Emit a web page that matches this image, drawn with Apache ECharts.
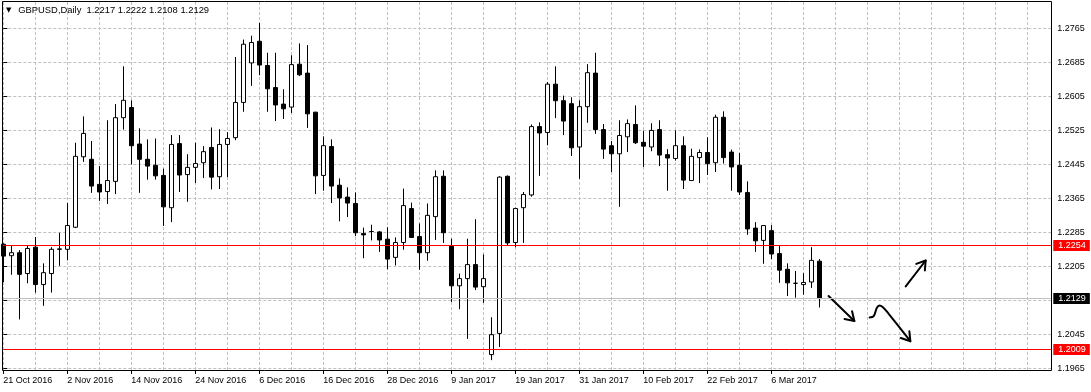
<!DOCTYPE html>
<html>
<head>
<meta charset="utf-8">
<script src="https://cdn.jsdelivr.net/npm/echarts@6/dist/echarts.min.js"></script>
<style>
html,body{margin:0;padding:0;background:#fff;}
#chart{width:1091px;height:392px;}
</style>
</head>
<body>
<div id="chart"></div>
<script>
const symbol = 'GBPUSD';
const timeframe = 'Daily';

const dates = [
'2016-10-21','2016-10-24','2016-10-25','2016-10-26','2016-10-27','2016-10-28','2016-10-31',
'2016-11-01','2016-11-02','2016-11-03','2016-11-04','2016-11-07','2016-11-08','2016-11-09','2016-11-10','2016-11-11','2016-11-14','2016-11-15','2016-11-16','2016-11-17','2016-11-18','2016-11-21','2016-11-22','2016-11-23','2016-11-24','2016-11-25','2016-11-28','2016-11-29','2016-11-30',
'2016-12-01','2016-12-02','2016-12-05','2016-12-06','2016-12-07','2016-12-08','2016-12-09','2016-12-12','2016-12-13','2016-12-14','2016-12-15','2016-12-16','2016-12-19','2016-12-20','2016-12-21','2016-12-22','2016-12-23','2016-12-26','2016-12-27','2016-12-28','2016-12-29','2016-12-30',
'2017-01-02','2017-01-03','2017-01-04','2017-01-05','2017-01-06','2017-01-09','2017-01-10','2017-01-11','2017-01-12','2017-01-13','2017-01-16','2017-01-17','2017-01-18','2017-01-19','2017-01-20','2017-01-23','2017-01-24','2017-01-25','2017-01-26','2017-01-27','2017-01-30','2017-01-31',
'2017-02-01','2017-02-02','2017-02-03','2017-02-06','2017-02-07','2017-02-08','2017-02-09','2017-02-10','2017-02-13','2017-02-14','2017-02-15','2017-02-16','2017-02-17','2017-02-20','2017-02-21','2017-02-22','2017-02-23','2017-02-24','2017-02-27','2017-02-28',
'2017-03-01','2017-03-02','2017-03-03','2017-03-06','2017-03-07','2017-03-08','2017-03-09','2017-03-10','2017-03-13','2017-03-14'
];

const openPrices = [
1.2257,1.2230,1.2237,1.2188,1.2250,1.2162,1.2188,1.2245,1.2245,1.2297,
1.2463,1.2457,1.2398,1.2381,1.2405,1.2555,1.2579,1.2493,1.2457,1.2443,
1.2419,1.2343,1.2494,1.2421,1.2438,1.2449,1.2485,1.2416,1.2492,1.2508,
1.2591,1.2684,1.2735,1.2678,1.2626,1.2587,1.2580,1.2681,1.2660,1.2568,
1.2419,1.2487,1.2396,1.2368,1.2353,1.2282,1.2287,1.2286,1.2269,1.2226,
1.2261,1.2341,1.2275,1.2237,1.2322,1.2417,1.2252,1.2159,1.2176,1.2209,
1.2157,1.1997,1.2047,1.2417,1.2261,1.2343,1.2373,1.2534,1.2520,1.2634,
1.2595,1.2588,1.2486,1.2581,1.2660,1.2527,1.2489,1.2470,1.2510,1.2539,
1.2497,1.2486,1.2527,1.2468,1.2459,1.2489,1.2407,1.2461,1.2473,1.2449,
1.2556,1.2474,1.2443,1.2379,1.2295,1.2266,1.2289,1.2235,1.2198,1.2165,
1.2162,1.2168,1.2217
];
const closePrices = [
1.2229,1.2237,1.2186,1.2247,1.2162,1.2190,1.2245,1.2246,1.2301,1.2464,
1.2518,1.2394,1.2380,1.2407,1.2555,1.2596,1.2489,1.2457,1.2441,1.2418,
1.2345,1.2492,1.2420,1.2438,1.2447,1.2475,1.2415,1.2492,1.2506,1.2591,
1.2728,1.2732,1.2679,1.2623,1.2585,1.2576,1.2680,1.2656,1.2564,1.2418,
1.2489,1.2394,1.2366,1.2354,1.2284,1.2279,1.2287,1.2267,1.2222,1.2261,
1.2348,1.2273,1.2237,1.2325,1.2416,1.2284,1.2159,1.2176,1.2209,1.2156,
1.2176,1.2044,1.2415,1.2260,1.2341,1.2374,1.2534,1.2519,1.2634,1.2595,
1.2547,1.2484,1.2581,1.2661,1.2527,1.2481,1.2470,1.2513,1.2541,1.2496,
1.2488,1.2525,1.2467,1.2460,1.2489,1.2408,1.2464,1.2473,1.2447,1.2556,
1.2461,1.2439,1.2380,1.2293,1.2265,1.2301,1.2234,1.2196,1.2166,1.2165,
1.2167,1.2219,1.2129
];
const highPrices = [
1.2259,1.2253,1.2243,1.2253,1.2274,1.2212,1.2250,1.2284,1.2354,1.2496,
1.2558,1.2500,1.2441,1.2549,1.2587,1.2676,1.2596,1.2530,1.2504,1.2506,
1.2435,1.2514,1.2514,1.2469,1.2496,1.2488,1.2532,1.2528,1.2521,1.2698,
1.2739,1.2748,1.2778,1.2708,1.2708,1.2622,1.2702,1.2730,1.2726,1.2569,
1.2511,1.2504,1.2412,1.2391,1.2379,1.2296,1.2303,1.2288,1.2297,1.2273,
1.2388,1.2355,1.2306,1.2353,1.2431,1.2431,1.2270,1.2188,1.2270,1.2316,
1.2233,1.2085,1.2417,1.2419,1.2343,1.2380,1.2539,1.2544,1.2639,1.2676,
1.2607,1.2603,1.2596,1.2681,1.2708,1.2540,1.2500,1.2549,1.2551,1.2584,
1.2524,1.2542,1.2549,1.2481,1.2525,1.2511,1.2482,1.2480,1.2509,1.2562,
1.2570,1.2480,1.2472,1.2405,1.2309,1.2301,1.2302,1.2253,1.2212,1.2194,
1.2189,1.2250,1.2222
];
const lowPrices = [
1.2168,1.2185,1.2080,1.2165,1.2143,1.2112,1.2143,1.2206,1.2219,1.2295,
1.2451,1.2378,1.2359,1.2352,1.2375,1.2527,1.2445,1.2378,1.2409,1.2409,
1.2300,1.2309,1.2380,1.2357,1.2401,1.2413,1.2386,1.2387,1.2415,1.2502,
1.2569,1.2630,1.2655,1.2569,1.2547,1.2552,1.2566,1.2653,1.2531,1.2375,
1.2383,1.2354,1.2311,1.2321,1.2276,1.2224,1.2266,1.2239,1.2198,1.2207,
1.2244,1.2272,1.2197,1.2218,1.2267,1.2260,1.2121,1.2104,1.2034,1.2149,
1.2119,1.1984,1.2015,1.2255,1.2250,1.2260,1.2369,1.2418,1.2490,1.2554,
1.2514,1.2465,1.2411,1.2543,1.2517,1.2458,1.2427,1.2345,1.2474,1.2493,
1.2439,1.2476,1.2441,1.2383,1.2454,1.2387,1.2406,1.2401,1.2420,1.2427,
1.2447,1.2383,1.2373,1.2279,1.2239,1.2211,1.2222,1.2166,1.2135,1.2131,
1.2138,1.2154,1.2108
];

// price axis ticks / labels (1.2125 label is covered by the bid label)
const priceTicks = [1.1965,1.2045,1.2125,1.2205,1.2285,1.2365,1.2445,1.2525,1.2605,1.2685,1.2765];
const priceLabels = [1.1965,1.2045,1.2205,1.2285,1.2365,1.2445,1.2525,1.2605,1.2685,1.2765];
// horizontal levels drawn in red
const levelPrices = [1.2254, 1.2009];
const futureSlots = 29;
const monthNames = ['Jan','Feb','Mar','Apr','May','Jun','Jul','Aug','Sep','Oct','Nov','Dec'];

// hand-drawn arrows, in (bar index, price)
const arrowDown1 = [[103.16, 1.21352], [106.38, 1.20763]];
const arrowSquiggle = [[108.29, 1.20844], [108.8, 1.20875], [109.2, 1.21075], [109.55, 1.21125], [110.05, 1.21070], [110.7, 1.20925], [113.38, 1.20286]];
const arrowUp = [[112.8, 1.21575], [115.3, 1.22187]];
const arrows = [arrowDown1, arrowSquiggle, arrowUp];

const FONT = "'Liberation Sans', Arial, sans-serif";
const FS = 9;

const slots = dates.concat(Array.from({length: futureSlots}, (_, i) => 'future-' + i));
const nBars = dates.length;
const lastIdx = nBars - 1;
const fmt4 = v => Number(v).toFixed(4);
function fmtDate(s) {
  const p = s.split('-');
  return parseInt(p[2], 10) + ' ' + monthNames[parseInt(p[1], 10) - 1] + ' ' + p[0];
}
const candleData = dates.map((d, i) => [openPrices[i], closePrices[i], lowPrices[i], highPrices[i]]);
const tickShown = (i) => i % 8 === 0 && i < nBars;

const chart = echarts.init(document.getElementById('chart'), null, {renderer: 'canvas'});
const option = {
  animation: false,
  backgroundColor: '#ffffff',
  title: {
    text: '{tri|▼}{t|' + symbol + ',' + timeframe + '  ' + [openPrices[lastIdx], highPrices[lastIdx], lowPrices[lastIdx], closePrices[lastIdx]].map(fmt4).join(' ') + '}',
    left: 6, top: 6, padding: 0,
    textStyle: {
      fontSize: 9.4, fontWeight: 'normal', color: '#000', fontFamily: FONT,
      rich: {
        tri: {fontSize: 7, color: '#000', fontFamily: 'DejaVu Sans', width: 12.3, align: 'left'},
        t: {fontSize: 9.4, color: '#000', fontFamily: FONT}
      }
    }
  },
  grid: { left: 3.3, top: 2, width: 1048, height: 368, show: false },
  xAxis: [{
    type: 'category', data: slots, boundaryGap: false,
    axisLine: {show: false},
    axisTick: {show: true, interval: tickShown, length: 4, lineStyle: {color: '#000'}},
    axisLabel: {interval: tickShown, formatter: v => fmtDate(v), align: 'left', margin: 6, color: '#000', fontSize: FS, fontFamily: FONT},
    splitLine: {show: true, interval: 3, lineStyle: {color: '#c0c0c0', width: 1, type: [3, 2]}}
  }, {
    type: 'value', min: 0, max: slots.length - 1, show: false
  }],
  yAxis: {
    type: 'value', position: 'right', min: 1.196078, max: 1.282748,
    axisLine: {show: false},
    axisTick: {show: true, length: 4, customValues: priceTicks, lineStyle: {color: '#000'}},
    axisLabel: {customValues: priceLabels, formatter: fmt4, margin: 6, align: 'left', color: '#000', fontSize: FS, fontFamily: FONT},
    splitLine: {show: true, lineStyle: {color: '#c0c0c0', width: 1, type: [3, 2]}}
  },
  series: [{
    type: 'candlestick',
    data: candleData,
    barWidth: 4,
    itemStyle: {color: '#ffffff', color0: '#000000', borderColor: '#000000', borderColor0: '#000000', borderWidth: 1},
    markLine: {
      silent: true, symbol: ['none', 'none'], animation: false, precision: 4,
      label: {show: true, position: 'end', distance: 2, formatter: p => fmt4(p.value), color: '#fff', fontSize: FS, fontFamily: FONT, padding: [1, 4, 1, 5], lineHeight: 9},
      data: levelPrices.map(v => ({yAxis: v, lineStyle: {color: '#ff0000', width: 1, type: 'solid', opacity: 1}, label: {backgroundColor: '#ff0000'}}))
        .concat([{yAxis: closePrices[lastIdx], lineStyle: {color: '#c0c0c0', width: 1, type: 'solid', opacity: 1}, label: {backgroundColor: '#000000'}}])
    }
  }, {
    type: 'custom',
    xAxisIndex: 1, yAxisIndex: 0,
    silent: true,
    data: arrows.map(a => [a[0][0], a[0][1]]),
    encode: {x: 0, y: 1},
    renderItem: function (params, api) {
      const pts = arrows[params.dataIndex].map(p => api.coord(p));
      const n = pts.length;
      const tip = pts[n - 1], prev = pts[n - 2];
      const ang = Math.atan2(tip[1] - prev[1], tip[0] - prev[0]);
      const L = 10, spread = Math.PI / 5.5;
      const w1 = [tip[0] - L * Math.cos(ang - spread), tip[1] - L * Math.sin(ang - spread)];
      const w2 = [tip[0] - L * Math.cos(ang + spread), tip[1] - L * Math.sin(ang + spread)];
      return {
        type: 'group',
        children: [
          {type: 'polyline', shape: {points: pts, smooth: n > 2 ? 0.35 : 0}, style: {stroke: '#000', lineWidth: 2, fill: null, lineCap: 'round', lineJoin: 'round'}},
          {type: 'polyline', shape: {points: [w1, tip, w2]}, style: {stroke: '#000', lineWidth: 2, fill: null, lineCap: 'round', lineJoin: 'round'}}
        ]
      };
    }
  }],
  graphic: [{
    type: 'rect', z: 100, silent: true,
    shape: {x: 2.5, y: 1.5, width: 1049, height: 369},
    style: {fill: null, stroke: '#000', lineWidth: 1}
  }]
};
chart.setOption(option);
</script>
</body>
</html>
